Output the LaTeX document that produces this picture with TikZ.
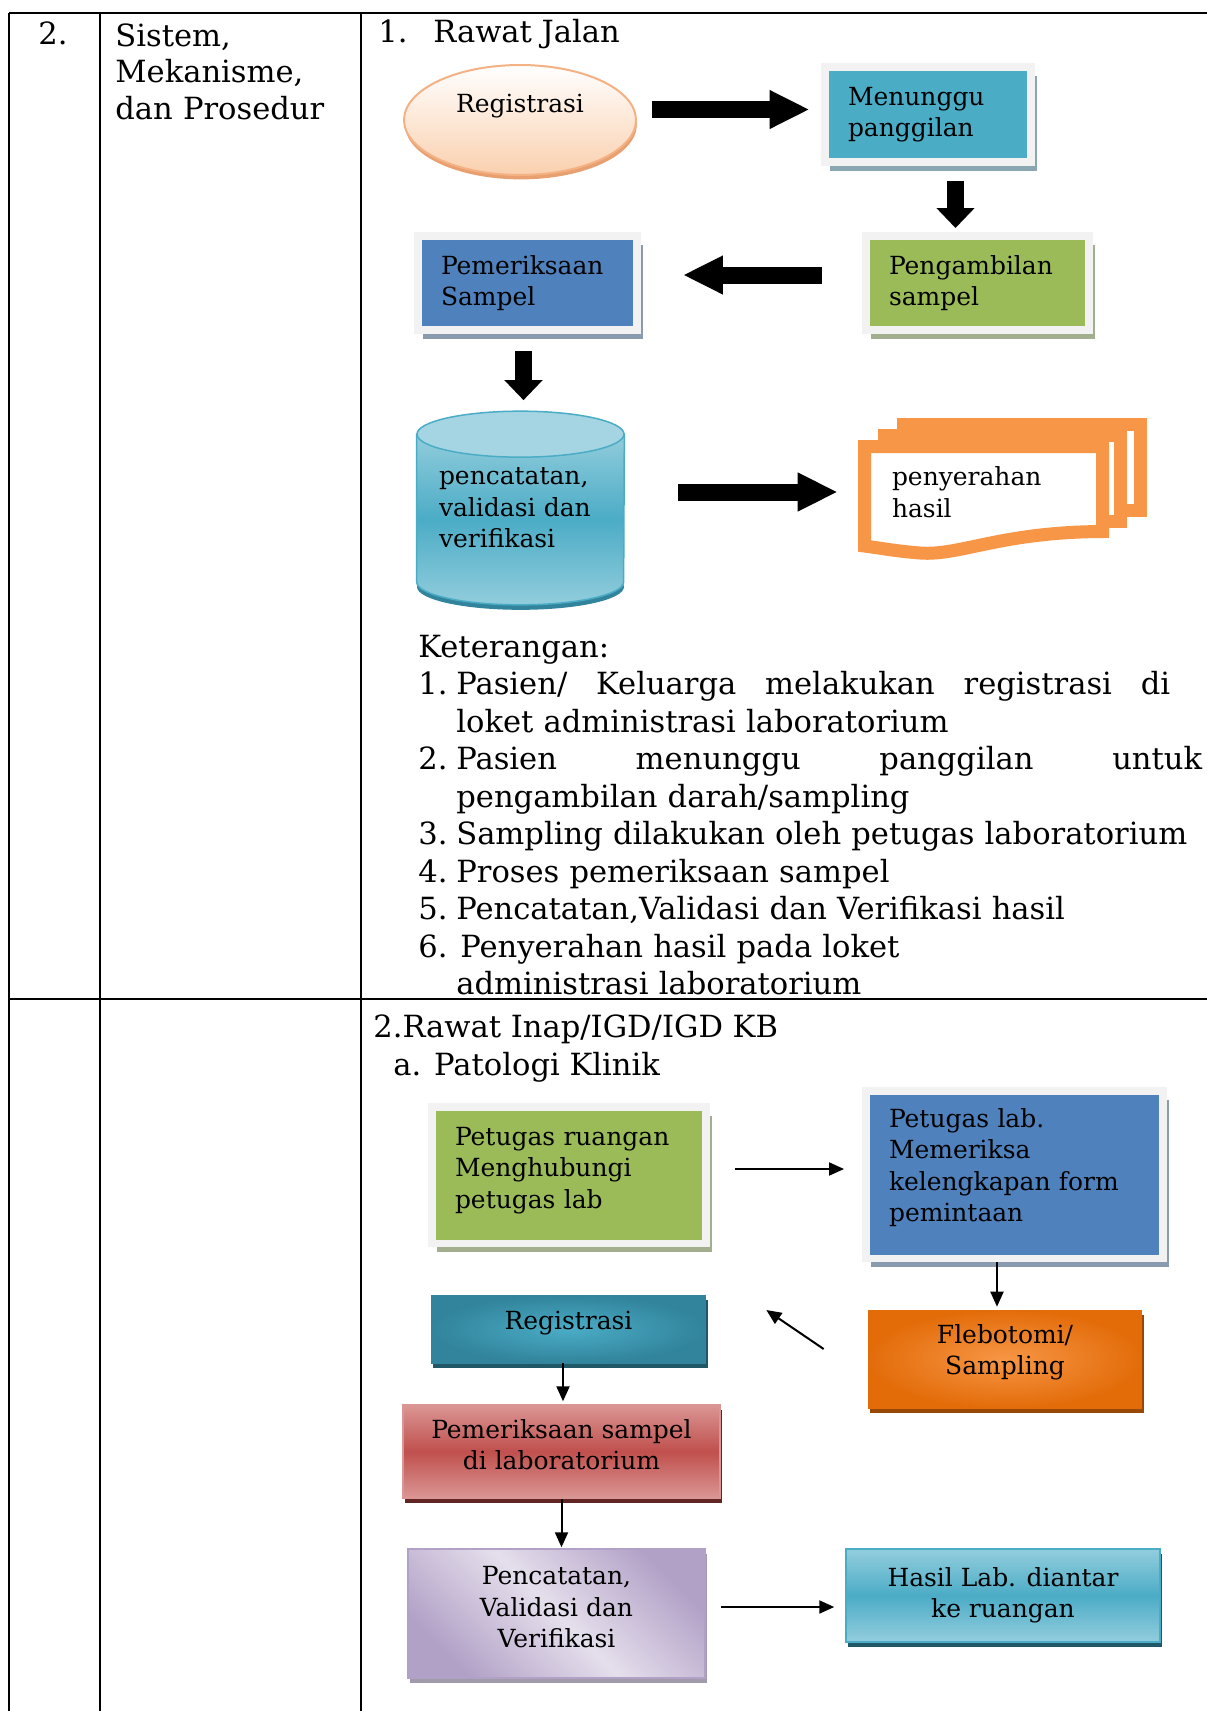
\documentclass[tikz,border=0pt]{standalone}
\usepackage{fontspec}
\setmainfont{DejaVu Serif}
\newfontfamily\shapeface{DejaVu Serif}
\usepackage{tikz}
\usetikzlibrary{positioning, arrows.meta, shapes.geometric, shadows, calc}
\usepackage{xcolor}

\pgfdeclarelayer{background}
\pgfsetlayers{background,main}

\newcommand\cellfont{\fontsize{17.4}{21.35}\selectfont}
\newcommand\shapefont{\shapeface\fontsize{14.2}{17.9}\selectfont}

\definecolor{boxgreen}{HTML}{9BBB59}
\definecolor{boxblue}{HTML}{4F81BD}
\definecolor{boxteal}{HTML}{4BACC6}
\definecolor{framegray}{HTML}{F2F2F2}
\definecolor{greenshade}{HTML}{A3AE8E}
\definecolor{blueshade}{HTML}{8A9BB0}
\definecolor{tealshade}{HTML}{8AA6B1}
\definecolor{peach}{HTML}{FAD0AE}
\definecolor{peachline}{HTML}{F4B183}
\definecolor{peachdark}{HTML}{E8A070}
\definecolor{docorange}{HTML}{F79646}
\definecolor{cyltop}{HTML}{A5D5E2}
\definecolor{cylmid}{HTML}{4BACC6}
\definecolor{cyllight}{HTML}{92CDDC}
\definecolor{cyldark}{HTML}{31849B}
\definecolor{flebodark}{HTML}{E36C09}
\definecolor{flebolight}{HTML}{F79646}
\definecolor{flebobrown}{HTML}{974806}
\definecolor{regdark}{HTML}{31849B}
\definecolor{reglight}{HTML}{4BACC6}
\definecolor{regshade}{HTML}{205867}
\definecolor{labred}{HTML}{C0504D}
\definecolor{labpink}{HTML}{DA9694}
\definecolor{labshade}{HTML}{632523}
\definecolor{recpale}{HTML}{E5DFEC}
\definecolor{recpurple}{HTML}{B2A1C7}
\definecolor{recshade}{HTML}{A09AAA}
\definecolor{respale}{HTML}{93CDDD}

\begin{document}
\begin{tikzpicture}[x=0.02cm, y=-0.02cm,
    rule/.style={line width=0.05cm, black},
    bodytext/.style={anchor=base west, inner sep=0pt, align=left, font=\cellfont},
    framed/.style={rectangle, draw=framegray, line width=0.15cm, inner xsep=0.465cm, inner ysep=0pt, align=left, font=\shapefont,
        drop shadow={shadow xshift=3pt, shadow yshift=-5pt, opacity=1, fill=#1}},
    plainbox/.style={rectangle, inner sep=0pt, align=center, font=\shapefont,
        drop shadow={shadow xshift=1pt, shadow yshift=-3pt, opacity=1, fill=#1}},
    page/.style={draw=docorange, line width=0.26cm, fill=white},
    blockarrow/.style={line width=0.34cm, -{Triangle[length=0.8cm, width=0.72cm]}},
    droparrow/.style={line width=0.34cm, -{Triangle[length=0.4cm, width=0.74cm]}},
    thinarrow/.style={line width=0.04cm, -{Triangle[length=0.3cm, width=0.26cm]}}
  ]
  \useasboundingbox (0,0) rectangle (1207,1711);

  % table rules
  \draw[rule] (9,13) -- (1207,13);
  \draw[rule] (9,999) -- (1207,999);
  \draw[rule] (9,13) -- (9,1711);
  \draw[rule] (100,13) -- (100,1711);
  \draw[rule] (361,13) -- (361,1711);

  \node[bodytext] (no) at (38,44) {2.};
  \node[bodytext, text width=5cm, font=\fontsize{17.4}{21}\selectfont] (topic) at (115,46) {Sistem,\\Mekanisme,\\dan Prosedur};
  \node[bodytext] (walk) at (378,42) {\makebox[1.1cm][l]{1.}Rawat Jalan};

  % rawat jalan
  \node[ellipse, draw=peachline, line width=0.04cm, top color=white, bottom color=peach,
        minimum width=4.64cm, minimum height=2.2cm,
        drop shadow={shadow xshift=0.5pt, shadow yshift=-2.5pt, opacity=1, fill=peachdark},
        label={[font=\shapefont, yshift=0.28cm]center:Registrasi}] (reg) at (520,120) {};
  \node[framed=tealshade, fill=boxteal, minimum width=4.13cm, minimum height=1.91cm, text width=3.2cm] (wait) at (928,114.5) {Menunggu\\panggilan};
  \node[framed=greenshade, fill=boxgreen, minimum width=4.47cm, minimum height=1.89cm, text width=3.54cm] (take) at (977.5,283) {Pengambilan\\sampel};
  \node[framed=blueshade, fill=boxblue, minimum width=4.39cm, minimum height=1.89cm, text width=3.46cm] (exam) at (527.5,283) {Pemeriksaan\\Sampel};
  \node[rectangle, inner xsep=0.44cm, inner ysep=0pt, align=left, font=\shapefont, minimum width=4.14cm, minimum height=3.86cm, text width=3.26cm] (cyl) at (520.5,508) {pencatatan,\\validasi dan\\verifikasi};
  \node[rectangle, inner xsep=0.68cm, inner ysep=0pt, align=left, font=\shapefont, minimum width=5.02cm, minimum height=2.24cm, text width=3.66cm] (hand) at (983.5,492) {penyerahan\\hasil};

  \begin{pgfonlayer}{background}
    \fill[white] (0,0) rectangle (1207,1711);
    % cylinder
    \fill[cyldark] ($(cyl.south)+(0,-18)$) ellipse [x radius=2.07cm, y radius=0.46cm];
    \path[draw=cylmid, line width=0.03cm, top color=cyllight, bottom color=cyllight, middle color=cylmid]
      ([yshift=-0.46cm]cyl.north west) -- ([yshift=0.46cm]cyl.south west)
      arc [start angle=180, end angle=360, x radius=2.07cm, y radius=0.46cm]
      -- ([yshift=-0.46cm]cyl.north east) -- cycle;
    \filldraw[fill=cyltop, draw=cylmid, line width=0.03cm] ([yshift=-0.46cm]cyl.north) ellipse [x radius=2.07cm, y radius=0.46cm];
    % document stack
    \draw[page] (903.5,424.5) rectangle (1140.5,510.5);
    \draw[page] (884.5,435.5) rectangle (1120.5,521.5);
    \draw[page] (864.5,446.5) -- (1102.5,446.5) -- (1102.5,531.5)
      .. controls (1000,532) and (960,556) .. (920,553)
      .. controls (895,551) and (880,548) .. (864.5,546) -- cycle;
  \end{pgfonlayer}

  \draw[blockarrow, shorten <=0.3cm, shorten >=0.23cm] ($(reg.east |- wait.west)+(0,-5)$) -- ($(wait.west)+(0,-5)$);
  \draw[droparrow, shorten <=0.3cm, shorten >=0.08cm] ($(wait.south)+(27.5,0)$) -- ($(wait.south |- take.north)+(27.5,0)$);
  \draw[blockarrow, shorten <=0.8cm, shorten >=0.84cm] ($(take.west)+(0,-8)$) -- ($(take.west -| exam.east)+(0,-8)$);
  \draw[droparrow, shorten <=0.34cm, shorten >=0.22cm] ($(exam.south)+(-4,0)$) -- ($(exam.south |- cyl.north)+(-4,0)$);
  \draw[blockarrow, shorten <=1.08cm, shorten >=0.4cm] (cyl.east |- hand.west) -- (hand.west);

  \node[bodytext, text width=16.2cm] (notes) at (418,657) {%
    Keterangan:\\
    \makebox[0.76cm][l]{1.}\makebox[14.28cm][l]{Pasien/\hfill Keluarga\hfill melakukan\hfill registrasi\hfill di}\\
    \hspace*{0.76cm}loket administrasi laboratorium\\
    \makebox[0.76cm][l]{2.}\makebox[14.92cm][l]{Pasien\hfill menunggu\hfill panggilan\hfill untuk}\\
    \hspace*{0.76cm}pengambilan darah/sampling\\
    \makebox[0.76cm][l]{3.}Sampling dilakukan oleh petugas laboratorium\\
    \makebox[0.76cm][l]{4.}Proses pemeriksaan sampel\\
    \makebox[0.76cm][l]{5.}Pencatatan,Validasi dan Verifikasi hasil\\
    \makebox[0.84cm][l]{6.}Penyerahan hasil pada loket\\
    \hspace*{0.76cm}administrasi laboratorium};

  % rawat inap
  \node[bodytext] (stay) at (373,1037) {2.Rawat Inap/IGD/IGD KB};
  \node[bodytext] (clinic) at (393,1075) {a. Patologi Klinik};

  \node[framed=greenshade, fill=boxgreen, minimum width=5.49cm, minimum height=2.73cm, text width=4.56cm, text depth=1.55cm] (call) at (569,1175) {Petugas ruangan\\Menghubungi\\petugas lab};
  \node[framed=blueshade, fill=boxblue, minimum width=5.95cm, minimum height=3.35cm, text width=5.02cm, text depth=2.27cm] (check) at (1014.5,1174.5) {Petugas lab.\\Memeriksa\\kelengkapan form\\pemintaan};
  \node[plainbox=flebobrown, inner color=flebolight, outer color=flebodark, minimum width=5.48cm, minimum height=1.96cm, text depth=0.38cm] (flebo) at (1005,1359) {Flebotomi/\\Sampling};
  \node[plainbox=regshade, inner color=reglight, outer color=regdark, minimum width=5.5cm, minimum height=1.36cm, text depth=0.34cm] (desk) at (568.5,1329) {Registrasi};
  \node[plainbox=labshade, draw=labpink, line width=0.03cm, top color=labpink, bottom color=labpink, middle color=labred, minimum width=6.34cm, minimum height=1.86cm, text depth=0.28cm] (lab) at (561.5,1451.5) {Pemeriksaan sampel\\di laboratorium};
  \node[plainbox=recshade, draw=recpurple, line width=0.03cm, top color=recpurple, bottom color=recpurple, middle color=recpale, shading angle=-45, minimum width=5.94cm, minimum height=2.58cm, text depth=0.26cm] (record) at (556.5,1613.5) {Pencatatan,\\Validasi dan\\Verifikasi};
  \node[plainbox=regshade, draw=boxteal, line width=0.03cm, top color=respale, bottom color=respale, middle color=boxteal, minimum width=6.28cm, minimum height=1.86cm] (result) at (1003,1595.5) {Hasil Lab. diantar\\ke ruangan};

  \draw[thinarrow, shorten <=0.5cm, shorten >=0.36cm] ($(call.east)+(0,-6)$) -- ($(call.east -| check.west)+(0,-6)$);
  \draw[thinarrow, shorten >=0.06cm] ($(check.south)+(-17.5,0)$) -- ($(check.south |- flebo.north)+(-17.5,0)$);
  \draw[thinarrow] ($(flebo.west)+(-44,-10)$) -- ($(desk.east)+(60,-19)$);
  \draw[thinarrow, shorten >=0.06cm] ($(desk.south)+(-5.5,0)$) -- ($(desk.south |- lab.north)+(-5.5,0)$);
  \draw[thinarrow, shorten >=0.02cm] (lab.south) -- (lab.south |- record.north);
  \draw[thinarrow, shorten <=0.3cm, shorten >=0.22cm] ($(record.east)+(0,-6.5)$) -- ($(record.east -| result.west)+(0,-6.5)$);
\end{tikzpicture}
\end{document}
